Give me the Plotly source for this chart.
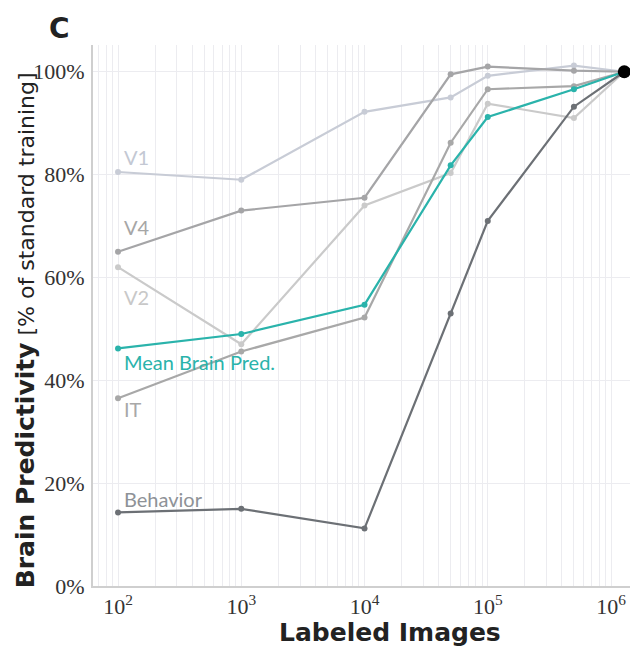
import numpy as np
import plotly.graph_objects as go

labeled_images = [100, 1000, 10000, 50000, 100000, 500000, 1281167]

v1 = [80.5, 79.0, 92.2, 95.0, 99.2, 101.2, 100]
v2 = [62.0, 47.0, 74.0, 80.3, 93.8, 91.0, 100]
v4 = [65.0, 73.0, 75.5, 99.5, 101.0, 100.2, 100]
it = [36.5, 45.6, 52.2, 86.2, 96.6, 97.2, 100]
behavior = [14.3, 15.0, 11.2, 53.0, 71.0, 93.2, 100]
mean_brain = [46.2, 49.0, 54.7, 81.8, 91.2, 96.6, 100]

series_names = ["V1", "V2", "V4", "IT", "Behavior", "Mean Brain Pred."]
series_values = [v1, v2, v4, it, behavior, mean_brain]
line_colors = ["#c8ccd6", "#cacaca", "#a5a5a7", "#a8a8a8", "#6c7075", "#2ab3ab"]
text_colors = ["#c3c8d3", "#c8c8c8", "#a6a6a6", "#a8a8a8", "#8e9297", "#2ab3ab"]
label_yshift = [15, -30, 25, -11, 13, -14]

y_tick_vals = [0, 20, 40, 60, 80, 100]
y_tick_text = ["0%", "20%", "40%", "60%", "80%", "100%"]
decades = [2, 3, 4, 5, 6]

fig = go.Figure()

for name, vals, lc in zip(series_names, series_values, line_colors):
    fig.add_trace(go.Scatter(
        x=labeled_images, y=vals, mode="lines+markers", name=name,
        line=dict(color=lc, width=2.2),
        marker=dict(color=lc, size=6),
        showlegend=False, hoverinfo="skip",
    ))

fig.add_trace(go.Scatter(
    x=[labeled_images[-1]], y=[mean_brain[-1]], mode="markers",
    marker=dict(color="black", size=13), showlegend=False,
))

# x ticks: grid at every 1..9 x decade, labels only on decades
tickvals, ticktext = [], []
for d in range(1, 7):
    for m in range(1, 10):
        v = m * 10 ** d
        tickvals.append(v)
        ticktext.append(f"10<sup>{d}</sup>" if (m == 1 and d in decades) else "")

for name, vals, tc, ys in zip(series_names, series_values, text_colors, label_yshift):
    fig.add_annotation(
        x=np.log10(labeled_images[0]), y=vals[0], text=name, showarrow=False,
        xanchor="left", yanchor="middle", xshift=4, yshift=ys,
        font=dict(family="Lato", size=20, color=tc),
    )

fig.add_annotation(
    xref="paper", yref="paper", x=-0.126, y=0.0, yshift=-4,
    text="<b><span style='font-size:25px'>Brain Predictivity</span></b> [% of standard training]",
    textangle=-90, showarrow=False, xanchor="center", yanchor="bottom",
    font=dict(family="DejaVu Sans", size=22, color="#222"),
)

fig.add_annotation(
    xref="paper", yref="paper", x=0.553, y=0.0, yshift=-46,
    text="<b>Labeled Images</b>", showarrow=False,
    xanchor="center", yanchor="middle",
    font=dict(family="DejaVu Sans", size=25, color="#222"),
)

fig.add_annotation(
    xref="paper", yref="paper", x=-0.085, y=1.0, yshift=17,
    text="<b>C</b>", showarrow=False, xanchor="left", yanchor="middle",
    font=dict(family="DejaVu Sans", size=28, color="#222"),
)

fig.update_layout(
    width=638, height=650,
    margin=dict(l=93, r=8, t=45, b=64),
    paper_bgcolor="white", plot_bgcolor="white",
    xaxis=dict(
        type="log", range=[1.797, 6.154],
        tickvals=tickvals, ticktext=ticktext, ticks="",
        showgrid=True, gridcolor="#ececf0", gridwidth=1,
        showline=True, linecolor="#cfcfcf", linewidth=2,
        zeroline=False,
        tickfont=dict(family="Liberation Serif", size=22, color="#333"),
    ),
    yaxis=dict(
        range=[0, 105.2], tickvals=y_tick_vals, ticktext=y_tick_text, ticks="",
        showgrid=True, gridcolor="#ececf0", gridwidth=1,
        showline=True, linecolor="#cfcfcf", linewidth=2,
        zeroline=False, ticklabelstandoff=2,
        tickfont=dict(family="Liberation Serif", size=22, color="#333"),
    ),
)

fig.write_html("out.html")
